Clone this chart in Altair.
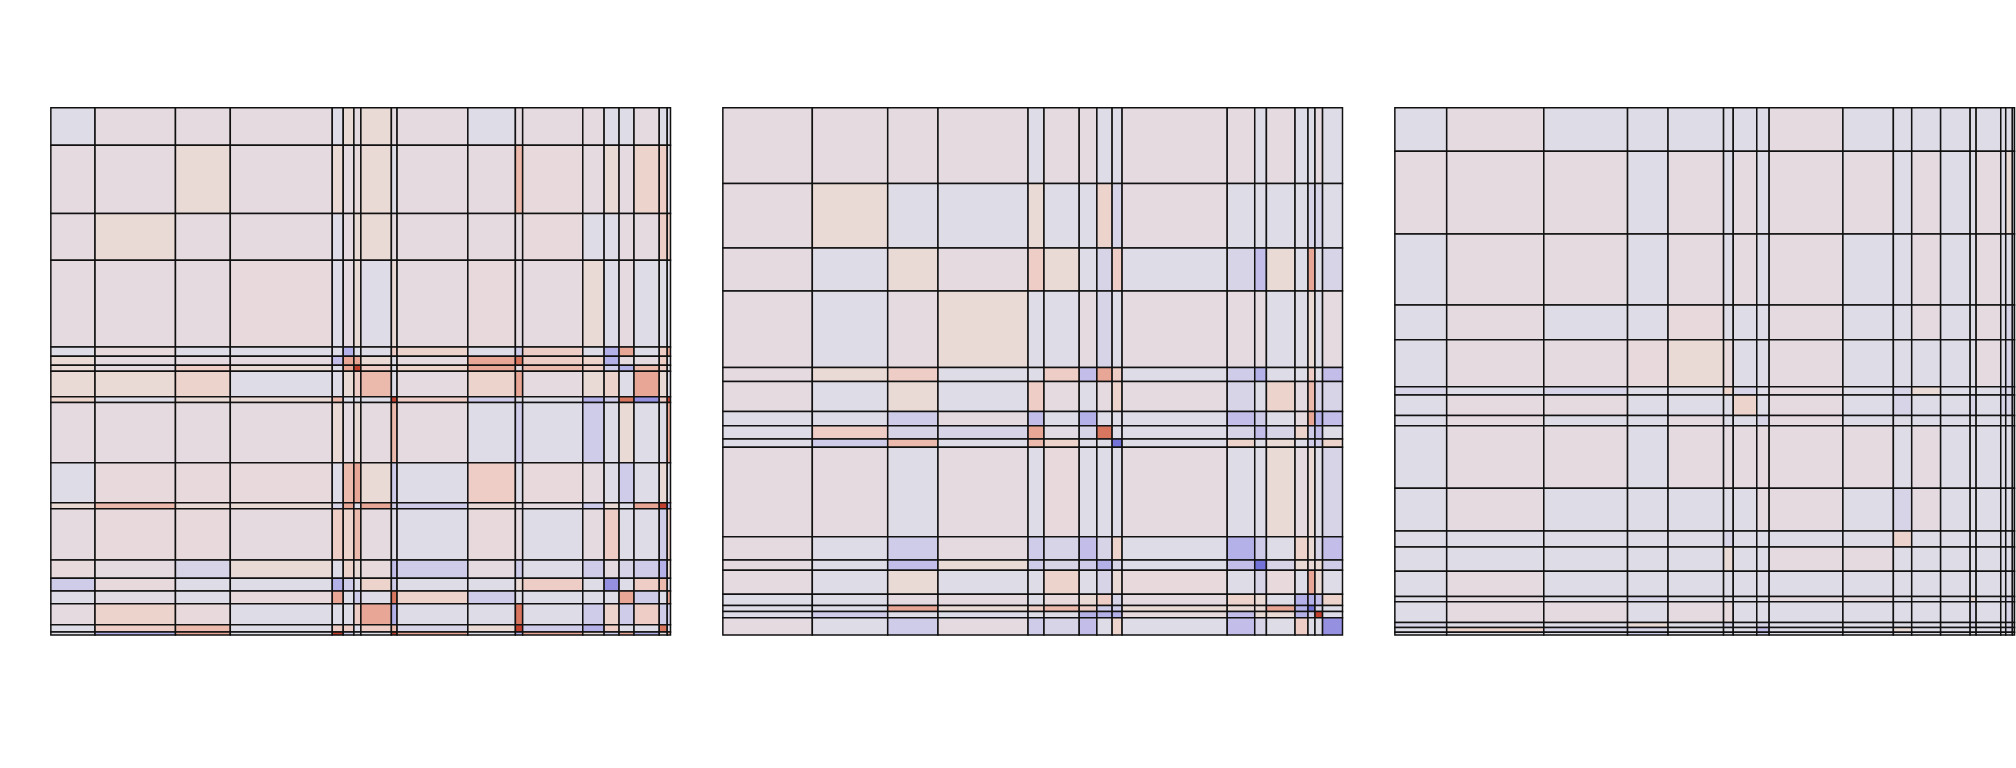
import altair as alt
import pandas as pd
import numpy as np

# ---------- panel 1 ----------
p1_col_w = [44.3, 80.7, 55, 102.3, 11, 10.7, 7, 30.6, 5.7, 71, 47.7, 7.3, 60.3, 21.4, 15, 15, 25.3, 8, 3.3]
p1_row_h = [37.7, 68.6, 46.7, 87, 9.3, 9, 6, 25.7, 5.7, 60.6, 40, 6, 51.4, 18.3, 12.7, 13, 21, 7.3, 3]
p1_vals = [
    [-1, 0, 0, 0, -1, 1, 0, 1, 0, 0, -1, 0, 0, 0, -1, -1, 0, -1, -1],
    [0, 0, 1, 0, 1, 0, 0.5, 1, -1, 0, 0, 2.5, 0.5, 0, 1, 0, 1.5, 2, -1],
    [0, 1, 0, 0, -1, 0, 1, 1, 0, 0, 0, 0, 0.5, -1, -1, 0, 0, 2, 2],
    [0, 0, 0, 0.5, -1, 0, 1, -1, 1, 0, 0.5, 0, 0, 1, -1, 0, -1, -1, -1],
    [-1, 0.5, -1, -1, -1, -3, -1, -1, 2, 1.5, -1, -2, 2, -1, -3, 3, -1, 2, 3],
    [1, 0, 0, 0, -2.5, 3, 3, 1, -1, 0, 3, 3.5, 2, 1.5, -3, 0, 0, 2, -1],
    [1, 0, 2, 1, -1, 3, 4, 2, -1, 1.5, 3, 0, 2.5, 2, -2, -3, 2.5, 2, -1],
    [1, 1, 1.5, -1, -1, 1, 2, 2.5, -1, 0, 1.5, 3, 0, 1, 1.5, -1, 3, 1, -1],
    [1.5, -1, 1, 1, 2.5, -1, -1, -1, 4, 2, -2, -1, -1, -3, -2, 3.5, -3.5, 2, 4],
    [0, 0, 0, 0, 1, 0, 1, 0, 2.5, 0, -1, -2, -1, -2, -1, 1, -1, -1, 3],
    [-1, 0.5, 0.5, 0.5, -1, 2.5, 3, 1, -2, -1, 2, -1, 0.5, 0, -1, -2, -1, 1, -1],
    [1, 2.5, 1, 1, -1.5, 3, -1, 3, -2, -2, 1, 0, 0, -2, 1, -1, 3, 4, -3],
    [0, 0.5, 0.5, 0, 2, 1.5, 2.5, 0, -1, -1, 0.5, 0, -1, 0, 2, -1, -1, -2, 2],
    [0.5, 0, -1.5, 1, -1, 1.5, 1, 0.5, -2.5, -2, 0, -2, -1, -2, 0, -1.5, -2, -3, 1],
    [-2, 0.5, -1, -1, -3, -2, -1, 1.5, -2, -1, -1, 1, 2, -1, -3.5, -1, 2, 2.5, -1],
    [-1, -0.5, -1, 0.5, 3, -1, -2, -1, 3.5, 1.5, -2, -1, -1, -1, -1, 3, -2, -1, 3],
    [0, 1.5, 0.5, -1, -1, -1, 2, 3, -3, -1, -1, 3.5, -1, -2, 1.5, -2, 2, -2, -2],
    [-1, 2, 2.5, -1, 2, 2, -1, 2, 2.5, -1.5, 1, 4, -2, -3, 2, -1, -1, 3.5, -1],
    [-1, -3, 3, -1, 4, -2, -1, -1, 4, 3, -1, -3, 3, 1, -2, 3, -3, 0, 3],
]

# ---------- panel 2 ----------
p2_col_w = [89.7, 75.6, 50.4, 90.3, 16, 35.3, 17.7, 15.3, 10, 105.4, 27.6, 11.7, 28.7, 13, 7, 7.6, 20]
p2_row_h = [76, 64.7, 43.3, 76.7, 14, 30, 14.3, 13.3, 8.4, 89.6, 23.4, 10.3, 24, 11.3, 6, 6.4, 17.3]
p2_vals = [
    [0, 0, 0, 0, -1, 0, 0, -1, -1, 0, 0, -1, 0, -1, -1, 0, -1],
    [0, 1, -1, -1, 1, -1, -1, 1.5, -1.5, 0, -1, -1, -1, -1, -1.5, -1.5, -1],
    [0, -1, 1, 0, 2, 1, -1, -1.5, 2, -1, -1.5, -2.5, 1, -1, 3, -1, -1.5],
    [0, -1, 0, 1, -1, -1, 0, -1.5, -1, 0, 0, 0, -1, -1, 1, -1, 0],
    [0, 1, 2, -1, -1, 2, -2.5, 3, 2, -1, -2, -3, -1, -1, 2, -1, -2.5],
    [0, -1, 1, -1, 2, 0, -1, 0, 1.5, 0, -1.5, -1, 1.5, 0, 2.5, -1.5, -1.5],
    [-1, -1, -2, 0, -2.5, -1, -3, -1, -1, -1, -2.5, -2, -1, 0, 3, -3, -2.5],
    [-1, 2, -1.5, -1.5, 3, -0.5, -1.5, 3.5, -1, -1, -1.5, -2.5, -1.5, 1.5, -2, -2.5, -1],
    [-1, -2, 2.5, -1, 2.5, 1.5, -1, -1, -4, -1, 1.5, -1, 1, -1, -2, -2, 1.5],
    [0, 0, -1, 0, -1, 0.5, -1, -1, -1, 0, -1, -1, 1, 0, 1, -1, -1.5],
    [0, -1, -2, 0, -2, -1.5, -2.5, -1.5, 1.5, -1, -3, -2, -1, 1.5, 1, -1.5, -2.5],
    [0, -1, -2.5, 1, -2, -1.5, -2, -3, -1.5, -1, -2.5, -4, -1.5, 1, 1, 1, -2],
    [0, -1, 1, -1, -1, 1.5, -1, -1.5, 1, 0.5, -1, -1.5, 0.5, -1, 3, 1, -1],
    [-1, -1, 0, 0, -1, 0.5, 1, 2, -1.5, 0, 1.5, 1, -1, -3, -3, -2.5, 1.5],
    [-1, -1, 3, 1, 2, 2.5, 2, -2, -2, 1, 1, 1, 3, -3, -4, -1.5, -1],
    [-1, -2, -1, -1, -1, -1, -3, -3, -3, 0.5, -2.5, 1, 1, -3, -2, 4, -1],
    [0, -1, -2, 0, -2, -1.5, -2.5, -1, 1.5, -1, -2.5, -1.5, -1, 2, -1, -1, -3.5],
]

# ---------- panel 3 ----------
p3_col_w = [52, 97.4, 84, 40.6, 55.7, 9.7, 23.6, 12.4, 74, 50.6, 18.4, 29, 29.6, 6, 24.7, 5, 6.7, 2.1]
p3_row_h = [43.7, 83, 71.3, 34.7, 47.3, 8.3, 20.4, 10.3, 62.7, 43, 16, 24.3, 25.3, 5.4, 20.6, 5, 5, 2.7]
p3_vals = [
    [-1, 0, -1, -1, -1, -1, -1, -1, 0, -1, -1, -1, -1, -1, -1, -1, -1, -1],
    [0, 0, 0, -1, 0, -1, 0, -1, 0, 0, -1, 0, -1, -1, 0, -1, 1, -1],
    [-1, 0, 0, -1, 0, -1, 0, -1, 0, -1, -1, 0, -1, -1, 0, -1, -1, -1],
    [-1, 0, -1, -1, 0.5, -1, -1, -1, 0, -1, -1, 0, -1, -1, 0, -1, -1.5, -1],
    [-1, 0, 0, 0.5, 1, 0.5, -1, -1, 0, -1, -1, -1, -1, -1, 0, -1, -1.5, -1],
    [-1.5, -1, -1.5, -1, -1, 1.5, -1.5, -1, 0, -1, -1.5, 1, -1, -1, -1, -1.5, -1.5, -1],
    [-1, 0, 0, -1, -1, -1, 1.5, -1, 0, -1, -1.5, -1, -1, -1.5, -1, -1.5, -1.5, -1],
    [-1, 0, -1, -1, 0, -1, -1, -1.5, 0, -1, -1, -1, -1, -1, -1, -1, -1, -1],
    [-1, 0, 0, -1, 0, 0, 0, 0, 0, 0, -1, 0, -1, -1, -1, -1, -1, -1],
    [-1, 0, -1, -1, -1, -1, -1, 0, 0, -1, -1.5, 0, -1, -1, -1, -1, -1, -1],
    [-1, -1, -1, -1, -1, -1.5, -1, -1, -1, -1, 1.5, -1, -1, -1, -1, -1, -1, -1],
    [-1, -1, -1, -1, -1, 1, -1, -1, 0, 0, -1, -1, -1, -1, -1, -1, -1, -1],
    [-1, 0, -1, -1, -1, -1, -1, -1, -1, -1, -1, -1, -1, -1, -1, -1, -1, -1],
    [-1, 0, -1, -1.5, -1, -1, -1, -1, 0, 0, -1, -1, -1, 1, -1, -1, -1.5, -1],
    [-1, 0, 0, -1, 0, 0.5, -1, -1, -1, -1, -1, -1, -1, -1.5, -1, -1, -1.5, -1],
    [-1.5, -1, -1, 1, -1, -1.5, -1, -1.5, -1, -1, -1, -1, -1, -1.5, -1, -1, -1.5, -1],
    [-1, 1.5, -1.5, -1.5, -1, -1, -1, -2.5, -1, -1, 1, -1, -1, -1, -1, -1, -1.5, -1],
    [-1, -1, -1, -2, -1, -1, -1, -2, -1, -1, -1, -1, -1, -1, -1, -1, -1, -1],
]

level_domain = [-4, -3, -2, -1, 0, 1, 2, 3, 4]
level_colors = ["#7474d8", "#b4b0e8", "#cfcce9", "#dedce6", "#e4dae0",
                "#eadad6", "#edcdc5", "#e8a796", "#c4402e"]


def panel(col_w, row_h, vals):
    xe = np.concatenate([[0.0], np.cumsum(col_w)])
    ye = np.concatenate([[0.0], np.cumsum(row_h)])
    recs = []
    for i, row in enumerate(vals):
        for j, v in enumerate(row):
            recs.append(dict(x=float(xe[j]), x2=float(xe[j + 1]),
                             y=float(ye[i]), y2=float(ye[i + 1]), v=float(v)))
    df = pd.DataFrame(recs)
    return alt.Chart(df).mark_rect(stroke="#111111", strokeWidth=1.5).encode(
        x=alt.X("x:Q", scale=alt.Scale(domain=[0, float(xe[-1])], nice=False, zero=False), axis=None),
        x2="x2:Q",
        y=alt.Y("y:Q", scale=alt.Scale(domain=[0, float(ye[-1])], nice=False, zero=False, reverse=True), axis=None),
        y2="y2:Q",
        color=alt.Color("v:Q", scale=alt.Scale(domain=level_domain, range=level_colors), legend=None),
    ).properties(width=621.5, height=529)


chart = alt.hconcat(
    panel(p1_col_w, p1_row_h, p1_vals),
    panel(p2_col_w, p2_row_h, p2_vals),
    panel(p3_col_w, p3_row_h, p3_vals),
    spacing=50,
).properties(
    padding={"left": 50, "top": 106, "right": 0, "bottom": 0}
).configure_view(strokeWidth=0)

chart.save("out.html", embed_options={"renderer": "svg", "actions": False})
